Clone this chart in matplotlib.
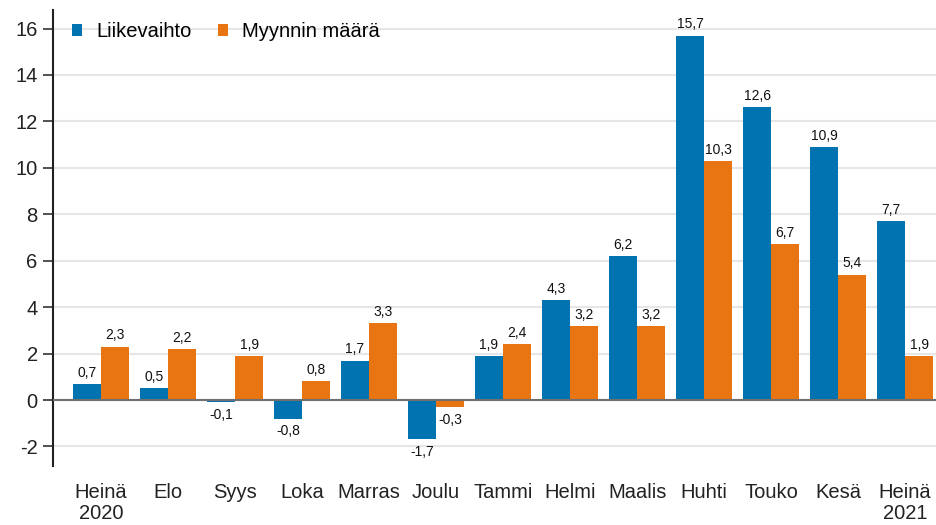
import matplotlib
matplotlib.use("Agg")
import matplotlib.pyplot as plt
import numpy as np

months = ["Heinä\n2020", "Elo", "Syys", "Loka", "Marras", "Joulu", "Tammi",
          "Helmi", "Maalis", "Huhti", "Touko", "Kesä", "Heinä\n2021"]
liikevaihto = [0.7, 0.5, -0.1, -0.8, 1.7, -1.7, 1.9, 4.3, 6.2, 15.7, 12.6, 10.9, 7.7]
myynti = [2.3, 2.2, 1.9, 0.8, 3.3, -0.3, 2.4, 3.2, 3.2, 10.3, 6.7, 5.4, 1.9]
yticks = [-2, 0, 2, 4, 6, 8, 10, 12, 14, 16]

BLUE = "#0073b0"
ORANGE = "#e87511"

plt.rcParams["font.family"] = ["Liberation Sans", "DejaVu Sans"]
fig = plt.figure(figsize=(9.36, 5.25), dpi=100)
ax = fig.add_axes([0.0566, 0.112, 0.9434, 0.869])

x = np.arange(len(months))
w = 0.42
b1 = ax.bar(x - w / 2, liikevaihto, w, color=BLUE, label="Liikevaihto", zorder=3)
b2 = ax.bar(x + w / 2, myynti, w, color=ORANGE, label="Myynnin määrä", zorder=3)

for bars, vals in ((b1, liikevaihto), (b2, myynti)):
    for r, v in zip(bars, vals):
        txt = f"{v:.1f}".replace(".", ",")
        cx = r.get_x() + r.get_width() / 2
        if v >= 0:
            ax.annotate(txt, (cx, v), xytext=(0, 3), textcoords="offset points",
                        ha="center", va="bottom", fontsize=10, color="#111111")
        else:
            ax.annotate(txt, (cx, v), xytext=(0, -4), textcoords="offset points",
                        ha="center", va="top", fontsize=10, color="#111111")

ax.set_xlim(-0.716, 12.46)
ax.set_ylim(-2.85, 16.8)
ax.set_yticks(yticks)
ax.set_yticklabels([str(t) for t in yticks], fontsize=14.5, color="#222222")
ax.set_xticks(x)
ax.set_xticklabels(months, fontsize=14.5, color="#222222", va="top", linespacing=1.15)
ax.tick_params(axis="x", length=0, pad=12)
ax.tick_params(axis="y", length=7, width=1.2, color="#333333", pad=4)

ax.yaxis.grid(True, color="#e6e6e6", lw=1.5, zorder=0)
ax.set_axisbelow(True)
ax.axhline(0, color="#707070", lw=1.5, zorder=4)
for s in ("top", "right", "bottom"):
    ax.spines[s].set_visible(False)
ax.spines["left"].set_color("#222222")
ax.spines["left"].set_linewidth(1.5)

ax.legend(loc="upper left", bbox_to_anchor=(0.008, 1.0), ncol=2, frameon=False,
          fontsize=14.5, handlelength=0.5, handleheight=0.5, handletextpad=0.7,
          columnspacing=1.3, borderaxespad=0.2)

fig.savefig("out.png", dpi=100, facecolor="white")
